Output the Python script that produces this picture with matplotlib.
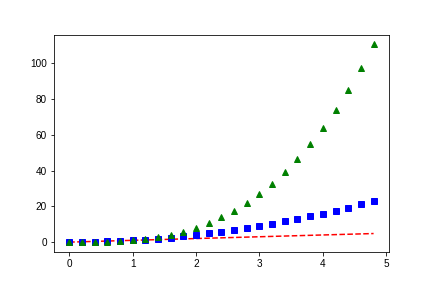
import matplotlib
matplotlib.use('Agg')
import matplotlib.pyplot as plt

plt.rcParams['font.family'] = ['Liberation Sans', 'DejaVu Sans']
plt.rcParams['axes.unicode_minus'] = False

# values
t = [0.0, 0.2, 0.4, 0.6, 0.8, 1.0, 1.2, 1.4, 1.6, 1.8, 2.0, 2.2,
     2.4, 2.6, 2.8, 3.0, 3.2, 3.4, 3.6, 3.8, 4.0, 4.2, 4.4, 4.6, 4.8]
sq = [0.0, 0.04, 0.16, 0.36, 0.64, 1.0, 1.44, 1.96, 2.56, 3.24, 4.0, 4.84,
      5.76, 6.76, 7.84, 9.0, 10.24, 11.56, 12.96, 14.44, 16.0, 17.64,
      19.36, 21.16, 23.04]
cube = [0.0, 0.008, 0.064, 0.216, 0.512, 1.0, 1.728, 2.744, 4.096, 5.832,
        8.0, 10.648, 13.824, 17.576, 21.952, 27.0, 32.768, 39.304, 46.656,
        54.872, 64.0, 74.088, 85.184, 97.336, 110.592]

fig = plt.figure(figsize=(6, 4), dpi=72)
fig.subplots_adjust(left=0.125, right=0.9, top=0.88, bottom=0.125)
plt.plot(t, t, 'r--', t, sq, 'bs', t, cube, 'g^')
fig.savefig('out.png', dpi=72)
